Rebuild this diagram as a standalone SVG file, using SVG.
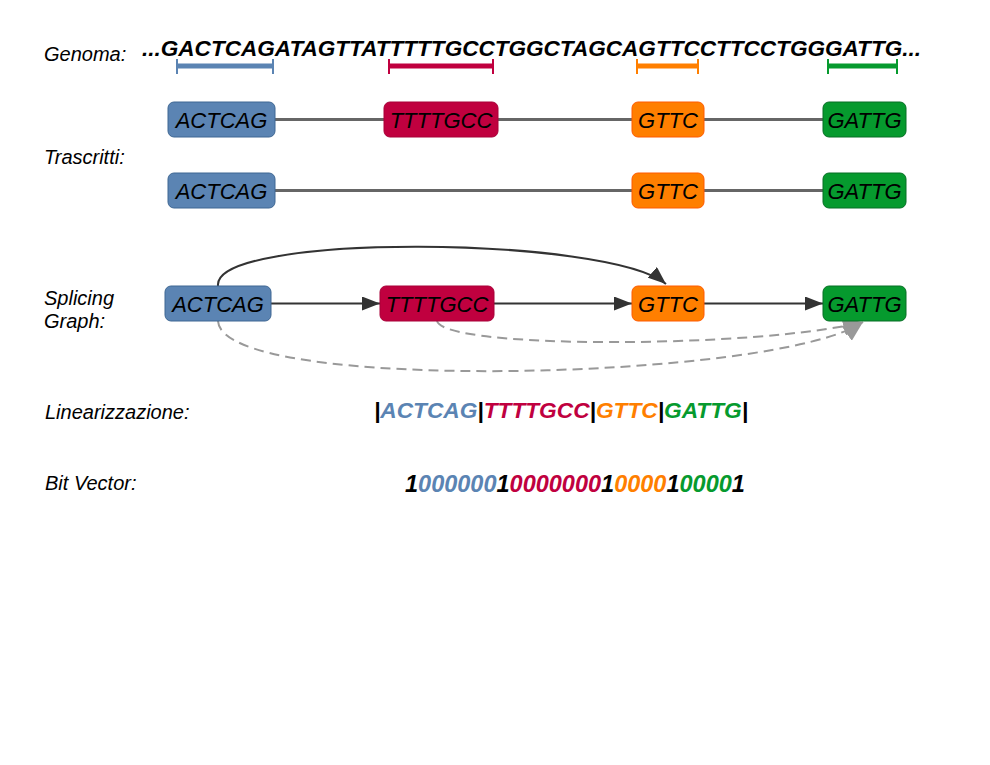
<svg xmlns="http://www.w3.org/2000/svg" width="990" height="765" viewBox="0 0 990 765">
<style>
.lbl{font-family:"Liberation Sans",Arial,sans-serif;font-style:italic;font-size:20px;fill:#000}
.seq{font-family:"Liberation Sans",Arial,sans-serif;font-style:italic;font-weight:bold;font-size:22px;fill:#000}
.bt{font-family:"Liberation Sans",Arial,sans-serif;font-style:italic;font-size:22px;fill:#000;text-anchor:middle}
.blue{fill:#5b84b3;stroke:#3e6793;stroke-width:1}
.red{fill:#c0003f;stroke:#a80038;stroke-width:1}
.orange{fill:#ff7f00;stroke:#ff5a00;stroke-width:1}
.green{fill:#069a2e;stroke:#066f24;stroke-width:1}
.tl{stroke:#666;stroke-width:3;fill:none}
.e{stroke:#333;stroke-width:2;fill:none}
.d{stroke:#999;stroke-width:2;fill:none;stroke-dasharray:10,6}
</style>
<defs>
<marker id="ah" markerUnits="userSpaceOnUse" markerWidth="20" markerHeight="14" refX="18" refY="7" orient="auto"><path d="M0,0 L18,7 L0,14 Z" fill="#333"/></marker>
<marker id="ahg" markerUnits="userSpaceOnUse" markerWidth="22" markerHeight="18" refX="20" refY="9" orient="auto"><path d="M0,0 L20,9 L0,18 Z" fill="#999"/></marker>
</defs>

<g id="labels">
<text class="lbl" x="44" y="61">Genoma:</text>
<text class="lbl" x="44" y="164">Trascritti:</text>
<text class="lbl" x="44" y="305">Splicing</text>
<text class="lbl" x="44" y="328">Graph:</text>
<text class="lbl" x="45" y="419">Linearizzazione:</text>
<text class="lbl" x="45" y="490">Bit Vector:</text>
</g>

<g id="genome">
<text class="seq" x="142" y="56" textLength="779" lengthAdjust="spacingAndGlyphs">...GACTCAGATAGTTATTTTTGCCTGGCTAGCAGTTCCTTCCTGGGATTG...</text>
<g stroke="#5b84b3"><line x1="177" y1="66" x2="273" y2="66" stroke-width="5"/><line x1="177" y1="59" x2="177" y2="74" stroke-width="2"/><line x1="273" y1="59" x2="273" y2="74" stroke-width="2"/></g>
<g stroke="#c0003f"><line x1="389" y1="66" x2="493" y2="66" stroke-width="5"/><line x1="389" y1="59" x2="389" y2="74" stroke-width="2"/><line x1="493" y1="59" x2="493" y2="74" stroke-width="2"/></g>
<g stroke="#ff7f00"><line x1="637" y1="66" x2="698" y2="66" stroke-width="5"/><line x1="637" y1="59" x2="637" y2="74" stroke-width="2"/><line x1="698" y1="59" x2="698" y2="74" stroke-width="2"/></g>
<g stroke="#069a2e"><line x1="828" y1="66" x2="897" y2="66" stroke-width="5"/><line x1="828" y1="59" x2="828" y2="74" stroke-width="2"/><line x1="897" y1="59" x2="897" y2="74" stroke-width="2"/></g>
</g>

<g id="transcript-lines">
<line class="tl" x1="275" y1="119.5" x2="384" y2="119.5"/>
<line class="tl" x1="498" y1="119.5" x2="632" y2="119.5"/>
<line class="tl" x1="704" y1="119.5" x2="823" y2="119.5"/>
<line class="tl" x1="275" y1="190.5" x2="632" y2="190.5"/>
<line class="tl" x1="704" y1="190.5" x2="823" y2="190.5"/>
</g>

<g id="t1-actcag"><rect class="blue" x="168" y="102" width="107" height="35" rx="6"/><text class="bt" x="221.5" y="127.5">ACTCAG</text></g>
<g id="t1-ttttgcc"><rect class="red" x="384" y="102" width="114" height="35" rx="6"/><text class="bt" x="441" y="127.5">TTTTGCC</text></g>
<g id="t1-gttc"><rect class="orange" x="632" y="102" width="72" height="35" rx="6"/><text class="bt" x="668" y="127.5">GTTC</text></g>
<g id="t1-gattg"><rect class="green" x="823" y="102" width="83" height="35" rx="6"/><text class="bt" x="864.5" y="127.5">GATTG</text></g>

<g id="t2-actcag"><rect class="blue" x="168" y="173" width="107" height="35" rx="6"/><text class="bt" x="221.5" y="198.5">ACTCAG</text></g>
<g id="t2-gttc"><rect class="orange" x="632" y="173" width="72" height="35" rx="6"/><text class="bt" x="668" y="198.5">GTTC</text></g>
<g id="t2-gattg"><rect class="green" x="823" y="173" width="83" height="35" rx="6"/><text class="bt" x="864.5" y="198.5">GATTG</text></g>

<g id="connectors">
<line class="e" x1="271" y1="303.5" x2="380" y2="303.5" marker-end="url(#ah)"/>
<line class="e" x1="494" y1="303.5" x2="632" y2="303.5" marker-end="url(#ah)"/>
<line class="e" x1="704" y1="303.5" x2="823" y2="303.5" marker-end="url(#ah)"/>
<path class="e" d="M218,286 C212,232 610,236 666,284" marker-end="url(#ah)"/>
<path class="d" d="M437,321 C445,350 760,348 863,322" marker-end="url(#ahg)"/>
<path class="d" d="M218,321 C222,395 780,380 863,322" marker-end="url(#ahg)"/>
</g>

<g id="g-actcag"><rect class="blue" x="165" y="286" width="106" height="35" rx="6"/><text class="bt" x="218" y="311.5">ACTCAG</text></g>
<g id="g-ttttgcc"><rect class="red" x="380" y="286" width="114" height="35" rx="6"/><text class="bt" x="437" y="311.5">TTTTGCC</text></g>
<g id="g-gttc"><rect class="orange" x="632" y="286" width="72" height="35" rx="6"/><text class="bt" x="668" y="311.5">GTTC</text></g>
<g id="g-gattg"><rect class="green" x="823" y="286" width="83" height="35" rx="6"/><text class="bt" x="864.5" y="311.5">GATTG</text></g>

<g id="linearization">
<text class="seq" x="561" y="418" text-anchor="middle" style="font-size:22.7px"><tspan>|</tspan><tspan fill="#5b84b3">ACTCAG</tspan><tspan>|</tspan><tspan fill="#c0003f">TTTTGCC</tspan><tspan>|</tspan><tspan fill="#ff7f00">GTTC</tspan><tspan>|</tspan><tspan fill="#069a2e">GATTG</tspan><tspan>|</tspan></text>
</g>

<g id="bitvector">
<text class="seq" x="405" y="492" style="font-size:23.5px"><tspan>1</tspan><tspan fill="#5b84b3">000000</tspan><tspan>1</tspan><tspan fill="#c0003f">0000000</tspan><tspan>1</tspan><tspan fill="#ff7f00">0000</tspan><tspan>1</tspan><tspan fill="#069a2e">0000</tspan><tspan>1</tspan></text>
</g>
</svg>
